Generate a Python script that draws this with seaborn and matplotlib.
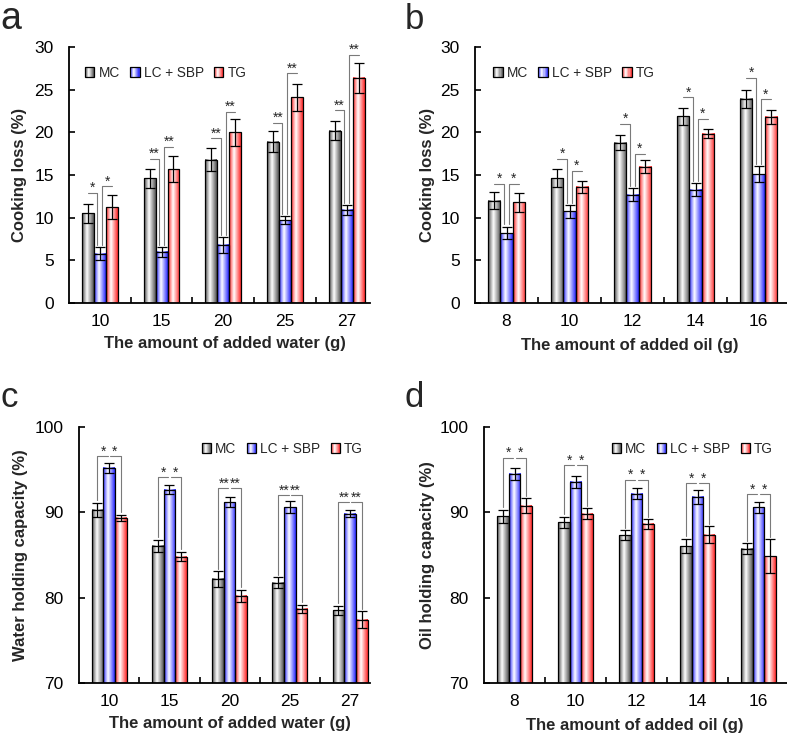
import numpy as np
import pandas as pd
import matplotlib
matplotlib.use("Agg")
import matplotlib.pyplot as plt
import seaborn as sns
from matplotlib.colors import LinearSegmentedColormap
from matplotlib.patches import Rectangle, Patch
from matplotlib.legend_handler import HandlerBase

sns.set_theme(style="ticks")
plt.rcParams["font.family"] = ["Liberation Sans", "DejaVu Sans"]

# ---------------- data ----------------
groups = ["MC", "LC + SBP", "TG"]
water_levels = ["10", "15", "20", "25", "27"]
oil_levels = ["8", "10", "12", "14", "16"]

# (a) cooking loss vs added water
cl_water_mc = [10.5, 14.6, 16.8, 18.9, 20.2]
cl_water_lc = [5.8, 6.0, 6.8, 9.7, 10.9]
cl_water_tg = [11.2, 15.7, 20.0, 24.1, 26.4]
cl_water_mc_sd = [1.15, 1.1, 1.35, 1.2, 1.1]
cl_water_lc_sd = [0.8, 0.6, 0.9, 0.5, 0.6]
cl_water_tg_sd = [1.4, 1.5, 1.6, 1.6, 1.75]
cl_water_sig = [["*", "*"], ["**", "**"], ["**", "**"], ["**", "**"], ["**", "**"]]
cl_water_sig_y = [[12.9, 13.7], [16.9, 18.3], [19.3, 22.4], [21.1, 26.9], [22.6, 29.1]]

# (b) cooking loss vs added oil
cl_oil_mc = [12.0, 14.6, 18.8, 21.9, 23.95]
cl_oil_lc = [8.2, 10.75, 12.7, 13.3, 15.1]
cl_oil_tg = [11.8, 13.6, 15.95, 19.85, 21.8]
cl_oil_mc_sd = [1.0, 1.05, 0.9, 1.0, 1.05]
cl_oil_lc_sd = [0.75, 0.75, 0.8, 0.8, 0.95]
cl_oil_tg_sd = [1.1, 0.7, 0.75, 0.55, 0.85]
cl_oil_sig = [["*", "*"], ["*", "*"], ["*", "*"], ["*", "*"], ["*", "*"]]
cl_oil_sig_y = [[14.0, 14.0], [16.9, 15.5], [21.0, 17.5], [24.1, 21.6], [26.4, 23.9]]

# (c) water holding capacity vs added water
whc_mc = [90.3, 86.1, 82.2, 81.75, 78.5]
whc_lc = [95.2, 92.65, 91.2, 90.6, 89.85]
whc_tg = [89.35, 84.8, 80.25, 78.7, 77.4]
whc_mc_sd = [0.8, 0.7, 0.9, 0.65, 0.55]
whc_lc_sd = [0.6, 0.55, 0.6, 0.7, 0.45]
whc_tg_sd = [0.35, 0.55, 0.7, 0.45, 1.0]
whc_sig = [["*", "*"], ["*", "*"], ["**", "**"], ["**", "**"], ["**", "**"]]
whc_sig_y = [96.6, 94.1, 92.8, 92.0, 91.2]

# (d) oil holding capacity vs added oil
ohc_mc = [89.55, 88.85, 87.3, 86.05, 85.75]
ohc_lc = [94.5, 93.6, 92.2, 91.8, 90.6]
ohc_tg = [90.8, 89.85, 88.65, 87.4, 84.85]
ohc_mc_sd = [0.75, 0.65, 0.6, 0.85, 0.6]
ohc_lc_sd = [0.7, 0.7, 0.6, 0.85, 0.65]
ohc_tg_sd = [0.85, 0.6, 0.55, 0.95, 2.0]
ohc_sig = [["*", "*"], ["*", "*"], ["*", "*"], ["*", "*"], ["*", "*"]]
ohc_sig_y = [96.4, 95.5, 93.8, 93.4, 92.1]

# ---------------- styles ----------------
edge_cols = {"MC": "#505050", "LC + SBP": "#2626ff", "TG": "#ff2626"}
cmaps = {g: LinearSegmentedColormap.from_list(
    g, [(0.0, c), (0.42, "#ffffff"), (1.0, c)]) for g, c in edge_cols.items()}
palette = {g: cmaps[g](0.25) for g in groups}


class GradHandler(HandlerBase):
    def __init__(self, cmap):
        super().__init__()
        self.cmap = cmap

    def create_artists(self, legend, orig_handle, xdescent, ydescent,
                       width, height, fontsize, trans):
        arts = []
        n = 9
        for i in range(n):
            arts.append(Rectangle((-xdescent + width * i / n, -ydescent), width / n, height,
                                  facecolor=self.cmap((i + 0.5) / n), edgecolor="none",
                                  transform=trans))
        arts.append(Rectangle((-xdescent, -ydescent), width, height, facecolor="none",
                              edgecolor="black", lw=0.9, transform=trans))
        return arts


def make_df(levels, mc, lc, tg):
    rows = []
    for g, vals in zip(groups, [mc, lc, tg]):
        for lv, v in zip(levels, vals):
            rows.append({"level": lv, "group": g, "value": v})
    return pd.DataFrame(rows)


def panel(ax, levels, mc, lc, tg, sds, ylim, yticks, ylabel, xlabel, xmax,
          sig, sig_y, style, leg_anchor, leg_loc, ylab_x, xlab_pos):
    df = make_df(levels, mc, lc, tg)
    sns.barplot(data=df, x="level", y="value", hue="group", order=levels,
                hue_order=groups, width=0.58, errorbar=None, palette=palette,
                edgecolor="black", linewidth=0.9, legend=False, ax=ax, zorder=3)
    centers = []
    for cont, g, sd, vals in zip(ax.containers, groups, sds, [mc, lc, tg]):
        cx = []
        for bar in cont:
            x0, y0 = bar.get_x(), bar.get_y()
            w, h = bar.get_width(), bar.get_height()
            ylo = max(y0, ylim[0])
            grad = np.linspace(0, 1, 128).reshape(1, -1)
            ax.imshow(grad, cmap=cmaps[g], extent=[x0, x0 + w, ylo, y0 + h],
                      aspect="auto", origin="lower", zorder=2.5, interpolation="bilinear")
            bar.set_facecolor("none")
            cx.append(x0 + w / 2)
        centers.append(cx)
        ax.errorbar(cx, vals, yerr=sd, fmt="none", ecolor="black", elinewidth=0.9,
                    capsize=3.9, capthick=0.9, zorder=5)
    mcx, lcx, tgx = centers
    top = [[v + s for v, s in zip(vals, sd)] for vals, sd in zip([mc, lc, tg], sds)]
    bc = "#7a7a7a"
    fs = 10
    for i in range(len(levels)):
        if style == "ab":
            y1, y2 = sig_y[i]
            xl = lcx[i] - 0.04
            xr = lcx[i] + 0.04
            ax.plot([mcx[i], xl, xl], [y1, y1, top[1][i] + 0.25], color=bc, lw=0.8, zorder=4)
            ax.plot([xr, xr, tgx[i]], [top[1][i] + 0.25, y2, y2], color=bc, lw=0.8, zorder=4)
            ax.annotate(sig[i][0], ((mcx[i] + xl) / 2, y1), xytext=(0, 0.5),
                        textcoords="offset points", ha="center", va="baseline",
                        fontsize=fs, zorder=6)
            ax.annotate(sig[i][1], ((xr + tgx[i]) / 2, y2), xytext=(0, 0.5),
                        textcoords="offset points", ha="center", va="baseline",
                        fontsize=fs, zorder=6)
        else:
            y = sig_y[i]
            g = 0.02
            ax.plot([mcx[i], mcx[i], lcx[i] - g], [top[0][i] + 0.3, y, y], color=bc, lw=0.8, zorder=4)
            ax.plot([lcx[i] + g, tgx[i], tgx[i]], [y, y, top[2][i] + 0.3], color=bc, lw=0.8, zorder=4)
            ax.annotate(sig[i][0], ((mcx[i] + lcx[i]) / 2, y), xytext=(0, 0.5),
                        textcoords="offset points", ha="center", va="baseline",
                        fontsize=fs, zorder=6)
            ax.annotate(sig[i][1], ((lcx[i] + tgx[i]) / 2, y), xytext=(0, 0.5),
                        textcoords="offset points", ha="center", va="baseline",
                        fontsize=fs, zorder=6)

    ax.set_xlim(-0.5, xmax)
    ax.set_ylim(*ylim)
    ax.set_yticks(yticks)
    ax.set_xticks(range(len(levels)))
    ax.set_xticklabels(levels)
    ax.set_xticks([0.5, 1.5, 2.5, 3.5], minor=True)
    ax.tick_params(axis="x", which="major", length=0, pad=8, labelsize=12.5, colors="black")
    ax.tick_params(axis="x", which="minor", direction="in", length=4, width=1.2, color="black")
    ax.tick_params(axis="y", which="major", direction="in", length=4, width=1.2,
                   pad=11, labelsize=12.5, colors="black")
    sns.despine(ax=ax)
    for s in ["left", "bottom"]:
        ax.spines[s].set_color("black")
        ax.spines[s].set_linewidth(1.3)
    ax.set_ylabel(ylabel, fontsize=12, fontweight="bold")
    ax.set_xlabel(xlabel, fontsize=12, fontweight="bold")
    ax.yaxis.set_label_coords(ylab_x, 0.5)
    ax.xaxis.set_label_coords(*xlab_pos)

    handles = [Patch(label=g) for g in groups]
    ax.legend(handles=handles, labels=groups, loc=leg_loc, bbox_to_anchor=leg_anchor,
              ncol=3, frameon=False, fontsize=9.8, borderpad=0, borderaxespad=0,
              handlelength=0.7, handleheight=0.78, handletextpad=0.3, columnspacing=0.75,
              handler_map={h: GradHandler(cmaps[g]) for h, g in zip(handles, groups)})


fig = plt.figure(figsize=(7.87, 7.38), dpi=100)
W, H = 787, 738


def add_ax(left, right, top, bottom):
    return fig.add_axes([left / W, (H - bottom) / H, (right - left) / W, (bottom - top) / H])


ax_a = add_ax(69, 370, 47, 303)
ax_b = add_ax(475, 787, 47, 303)
ax_c = add_ax(79, 370, 427, 683)
ax_d = add_ax(484, 787, 427, 683)

panel(ax_a, water_levels, cl_water_mc, cl_water_lc, cl_water_tg,
      [cl_water_mc_sd, cl_water_lc_sd, cl_water_tg_sd], (0, 30), range(0, 31, 5),
      "Cooking loss (%)", "The amount of added water (g)", -0.5 + 301 / 61.7,
      cl_water_sig, cl_water_sig_y, "ab", (0.053, 0.898), "center left", -0.14, (0.517, -0.13))
panel(ax_b, oil_levels, cl_oil_mc, cl_oil_lc, cl_oil_tg,
      [cl_oil_mc_sd, cl_oil_lc_sd, cl_oil_tg_sd], (0, 30), range(0, 31, 5),
      "Cooking loss (%)", "The amount of added oil (g)", -0.5 + 312 / 63.0,
      cl_oil_sig, cl_oil_sig_y, "ab", (0.058, 0.898), "center left", -0.128, (0.497, -0.135))
panel(ax_c, water_levels, whc_mc, whc_lc, whc_tg,
      [whc_mc_sd, whc_lc_sd, whc_tg_sd], (70, 100), [70, 80, 90, 100],
      "Water holding capacity (%)", "The amount of added water (g)", -0.5 + 291 / 60.25,
      whc_sig, whc_sig_y, "cd", (0.976, 0.914), "center right", -0.175, (0.517, -0.13))
panel(ax_d, oil_levels, ohc_mc, ohc_lc, ohc_tg,
      [ohc_mc_sd, ohc_lc_sd, ohc_tg_sd], (70, 100), [70, 80, 90, 100],
      "Oil holding capacity (%)", "The amount of added oil (g)", -0.5 + 303 / 61.0,
      ohc_sig, ohc_sig_y, "cd", (0.954, 0.914), "center right", -0.162, (0.498, -0.135))

for lab, x, y, fs in [("a", 0, 29, 27), ("b", 405, 29, 25), ("c", 0, 407, 25), ("d", 405, 407, 25)]:
    fig.text(x / W, (H - y) / H, lab, fontsize=fs, ha="left", va="baseline")

fig.savefig("out.png", dpi=100)
